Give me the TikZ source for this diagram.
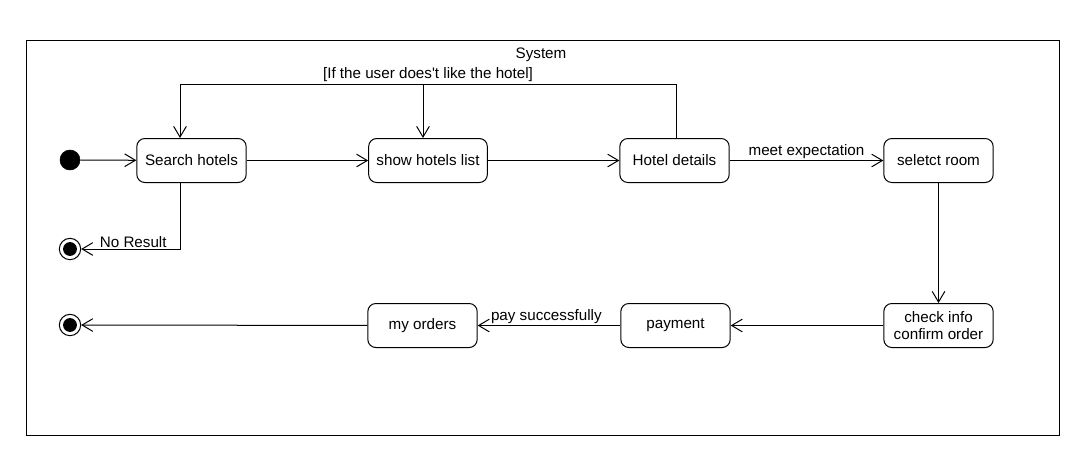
\documentclass[tikz,border=0pt]{standalone}
\usepackage{fontspec}
\setmainfont{Liberation Sans}
\usetikzlibrary{arrows.meta, positioning}
\tikzset{
  >={Straight Barb[length=8pt, width=9.5pt]},
  flow/.style={->, line width=0.75pt, black},
  activity/.style={rectangle, rounded corners=6pt, draw, line width=0.75pt, minimum width=82pt, minimum height=33pt, align=center, inner sep=2pt, font=\fontsize{11.4}{12.5}\selectfont},
  startdot/.style={circle, fill=black, draw, minimum size=15pt, inner sep=0pt},
  enddot/.style={circle, draw, line width=0.75pt, minimum size=16pt, inner sep=0pt, path picture={\fill (path picture bounding box.center) circle (5.2pt);}},
  lbl/.style={font=\fontsize{11.4}{13}\selectfont, inner sep=1pt}
}
\begin{document}
\begin{tikzpicture}[x=0.75pt, y=-0.75pt]
    \useasboundingbox (0,0) rectangle (1087,462);
    % system frame
    \draw[line width=0.75pt] (26,40) rectangle (1059,435);
    \node[lbl] (sysname) at (541,55) {System};

    % initial and final states
    \node[startdot] (start) at (70,160) {};
    \node[enddot] (endnores) at (70,249) {};
    \node[enddot] (endfinal) at (70,325) {};

    % top row
    \node[activity] (search) at (191.5,160.5) {Search hotels};
    \node[activity, minimum width=89pt] (showlist) at (428,160.5) {show hotels list};
    \node[activity] (details) at (674.5,160.5) {Hotel details};
    \node[activity] (room) at (938.5,160.5) {seletct room};

    % bottom row
    \node[activity] (confirm) at (938.5,325.5) {check info\\confirm order};
    \node[activity] (payment) at (675.5,325.5) {payment};
    \node[activity] (orders) at (422.5,325.5) {my orders};

    % main flow
    \draw[flow] (start) -- (search);
    \draw[flow] (search) -- (showlist);
    \draw[flow] (showlist) -- (details);
    \draw[flow] (details) -- node[lbl, above] {meet expectation} (room);
    \draw[flow] (room) -- (confirm);
    \draw[flow] (confirm) -- (payment);
    \draw[flow] (payment) -- node[lbl, above, xshift=-2pt] {pay successfully} (orders);
    \draw[flow] (orders) -- (endfinal);

    % no result branch
    \draw[flow] (search.south -| 180,0) |- node[lbl, pos=0.75, above, xshift=2pt] {No Result} (endnores);

    % loop back when the hotel is not liked
    \coordinate (looptop) at (676,84);
    \coordinate (loopleft) at (180,84);
    \coordinate (loopmid) at (423,84);
    \draw[line width=0.75pt] (details.north -| looptop) -- (looptop) -- (loopleft);
    \draw[flow] (loopleft) -- (search.north -| loopleft);
    \draw[flow] (loopmid) -- (showlist.north -| loopmid);
    \node[lbl, above] (guard) at (428,83) {[If the user does\textquotesingle t like the hotel]};
\end{tikzpicture}
\end{document}
